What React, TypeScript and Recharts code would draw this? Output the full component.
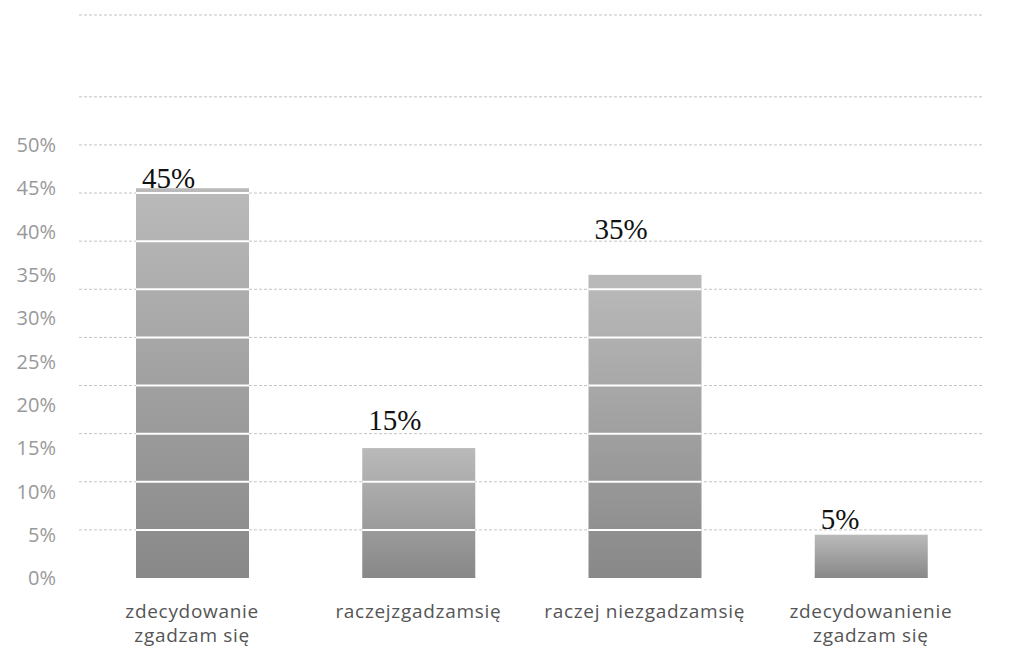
import React from "react";
import { BarChart, Bar, XAxis, YAxis, CartesianGrid, LabelList } from "recharts";

const answers = [
  "zdecydowanie\nzgadzam się",
  "raczejzgadzamsię",
  "raczej niezgadzamsię",
  "zdecydowanienie\nzgadzam się",
];
const shares = [45, 15, 35, 5];
const valueTicks = [0, 5, 10, 15, 20, 25, 30, 35, 40, 45, 50];

// the scanned chart's gridlines do not sit on the tick values: 9 steps span 50%
const gridStep = 50 / 9;
const gridValues = [1, 2, 3, 4, 5, 6, 7, 8, 9, 10].map((k) => k * gridStep).concat([65]);
// hand-placed value labels in the original sit at different heights
const labelLift = [0, 18, 36, 6];

const data = answers.map((answer, i) => ({ answer, share: shares[i] }));

const ShadedBar = (props: any) => {
  const { x, y, width, height, index, payload } = props;
  const value = payload.share;
  const base = y + height;
  const id = `bar-fill-${index}`;
  return (
    <g>
      <defs>
        <linearGradient id={id} x1="0" y1="0" x2="0" y2="1">
          <stop offset="0%" stopColor="#bababa" />
          <stop offset="100%" stopColor="#888888" />
        </linearGradient>
      </defs>
      <rect x={x} y={y} width={width} height={height} fill={`url(#${id})`} />
      {gridValues
        .filter((v) => v < value)
        .map((v) => {
          const ly = base - (height * v) / value;
          return <line key={v} x1={x} x2={x + width} y1={ly} y2={ly} stroke="#fff" strokeWidth={2} />;
        })}
    </g>
  );
};

const ValueLabel = (props: any) => {
  const { x, y, value, index } = props;
  return (
    <text
      x={x + 6}
      y={y - labelLift[index]}
      textAnchor="start"
      fontFamily="Liberation Serif"
      fontSize={29}
      fill="#111"
    >
      {value}%
    </text>
  );
};

const AnswerTick = (props: any) => {
  const { x, y, payload } = props;
  const lines = String(payload.value).split("\n");
  return (
    <g>
      {lines.map((line, i) => (
        <text
          key={i}
          x={x}
          y={y + 38 + i * 24}
          textAnchor="middle"
          fontFamily="Open Sans"
          fontSize={19}
          letterSpacing={0.7}
          fill="#555"
        >
          {line}
        </text>
      ))}
    </g>
  );
};

const PercentTick = (props: any) => {
  const { x, y, payload } = props;
  return (
    <text
      x={x}
      y={y}
      dy="0.36em"
      textAnchor="end"
      fontFamily="Open Sans"
      fontSize={20}
      fill="#999"
    >
      {payload.value}%
    </text>
  );
};

export default function App() {
  return (
    <div style={{ position: "absolute", left: 0, top: 0, background: "#fff" }}>
      <BarChart width={1009} height={652} data={data} margin={{ top: 15, right: 25, bottom: 0, left: 0 }}>
        <CartesianGrid
          vertical={false}
          horizontalValues={gridValues}
          stroke="#c4c4c4"
          strokeDasharray="3 2"
        />
        <XAxis
          dataKey="answer"
          axisLine={false}
          tickLine={false}
          tickSize={0}
          height={74}
          interval={0}
          tick={<AnswerTick />}
        />
        <YAxis
          type="number"
          domain={[0, 65]}
          ticks={valueTicks}
          axisLine={false}
          tickLine={false}
          tickSize={0}
          tickMargin={23}
          width={79}
          tick={<PercentTick />}
        />
        <Bar dataKey="share" barSize={113} shape={<ShadedBar />} isAnimationActive={false}>
          <LabelList dataKey="share" content={<ValueLabel />} />
        </Bar>
      </BarChart>
    </div>
  );
}
